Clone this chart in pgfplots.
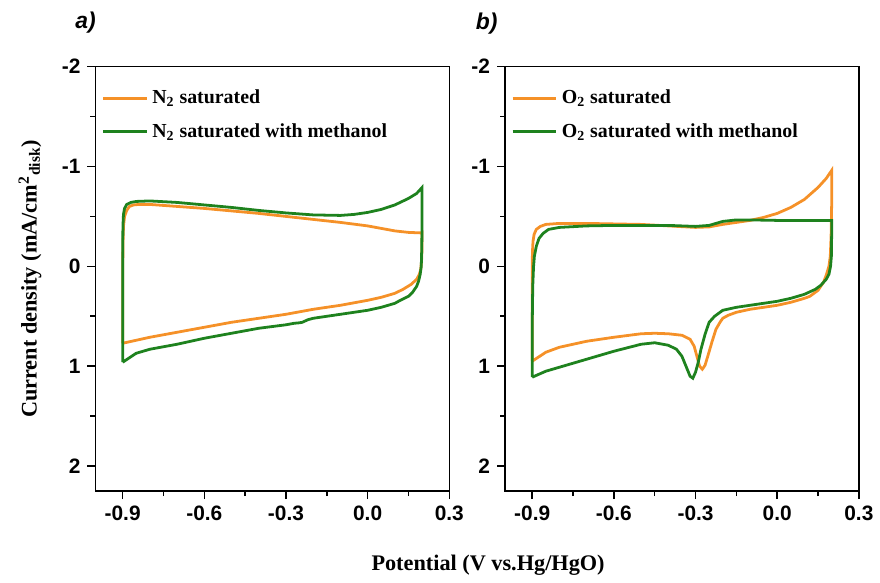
\documentclass[border=0pt]{standalone}
\usepackage{pgfplots}
\pgfplotsset{compat=1.18}
\usepackage{fontspec}
\setmainfont{Liberation Serif}
\setsansfont{Liberation Sans}
\definecolor{cvorange}{RGB}{245,145,40}
\definecolor{cvgreen}{RGB}{30,130,30}

\pgfplotsset{cvpanel/.style={
  width=178pt, height=213.5pt, scale only axis,
  xmin=-1.0, xmax=0.3, ymin=-2, ymax=2.25, y dir=reverse,
  xtick={-0.9,-0.6,-0.3,0,0.3}, ytick={-2,-1,0,1,2},
  minor xtick={-0.75,-0.45,-0.15,0.15}, minor ytick={-1.5,-0.5,0.5,1.5},
  tick pos=left, tick align=outside,
  major tick length=4pt, minor tick length=2.5pt,
  axis line style={line width=0.8pt},
  every tick/.style={black, line width=0.8pt},
  tick label style={font=\sffamily\bfseries\fontsize{10.5}{12}\selectfont},
  /pgf/number format/assume math mode=true,
  xticklabel style={/pgf/number format/.cd, fixed, fixed zerofill, precision=1},
  yticklabel style={/pgf/number format/.cd, fixed, precision=0},
  legend style={at={(0.0,0.965)}, anchor=north west, draw=none, fill=none,
    font=\bfseries\fontsize{10}{12}\selectfont, row sep=4.5pt},
  legend cell align=left,
  legend image code/.code={\draw[##1] (0pt,0pt) -- (22pt,0pt);},
  every axis plot/.append style={line width=1.4pt},
}}

\begin{document}
\begin{tikzpicture}
% panel a
\begin{axis}[cvpanel, at={(0pt,0pt)}, anchor=south west,
  ylabel={Current density (mA/cm\textsuperscript{2}\textsubscript{disk})},
  ylabel style={at={(axis description cs:-0.185,0.5)}, anchor=center,
    font=\bfseries\fontsize{11.2}{13}\selectfont}]
\addplot[cvorange] coordinates {
(-0.9,0.77) (-0.9,0.3) (-0.899,-0.2) (-0.897,-0.4) (-0.893,-0.5) (-0.885,-0.56)
(-0.875,-0.6) (-0.86,-0.615) (-0.84,-0.62) (-0.8,-0.62) (-0.7,-0.6) (-0.6,-0.58)
(-0.5,-0.555) (-0.4,-0.53) (-0.3,-0.5) (-0.2,-0.47) (-0.1,-0.44) (0.0,-0.405)
(0.05,-0.38) (0.1,-0.355) (0.15,-0.34) (0.195,-0.335) (0.2,-0.34) (0.2,-0.2)
(0.198,-0.05) (0.195,0.03) (0.19,0.08) (0.18,0.13) (0.16,0.18) (0.13,0.23)
(0.1,0.27) (0.05,0.31) (0.0,0.34) (-0.1,0.39) (-0.2,0.43) (-0.3,0.48)
(-0.4,0.52) (-0.5,0.56) (-0.6,0.61) (-0.7,0.66) (-0.8,0.71) (-0.9,0.77)};
\addlegendentry{N\textsubscript{2} saturated}
\addplot[cvgreen] coordinates {
(-0.9,0.96) (-0.9,0.5) (-0.9,0.0) (-0.899,-0.4) (-0.897,-0.52) (-0.893,-0.58)
(-0.885,-0.62) (-0.87,-0.64) (-0.85,-0.65) (-0.8,-0.655) (-0.7,-0.64) (-0.6,-0.615)
(-0.5,-0.59) (-0.4,-0.56) (-0.3,-0.535) (-0.2,-0.515) (-0.1,-0.51) (-0.05,-0.52)
(0.0,-0.54) (0.05,-0.57) (0.1,-0.615) (0.15,-0.68) (0.18,-0.73) (0.2,-0.79)
(0.2,-0.5) (0.199,-0.2) (0.197,0.0) (0.193,0.08) (0.187,0.15) (0.18,0.2)
(0.165,0.26) (0.15,0.3) (0.12,0.34) (0.1,0.37) (0.05,0.41) (0.0,0.44)
(-0.1,0.48) (-0.2,0.52) (-0.22,0.535) (-0.24,0.56) (-0.25,0.565) (-0.27,0.57)
(-0.3,0.585) (-0.4,0.62) (-0.5,0.67) (-0.6,0.72) (-0.7,0.78) (-0.8,0.83)
(-0.85,0.87) (-0.9,0.96)};
\addlegendentry{N\textsubscript{2} saturated with methanol}
\end{axis}

% panel b
\begin{axis}[cvpanel, at={(206pt,0pt)}, anchor=south west]
\addplot[cvorange] coordinates {
(-0.9,0.95) (-0.9,0.5) (-0.9,0.0) (-0.899,-0.15) (-0.897,-0.25) (-0.893,-0.32)
(-0.885,-0.37) (-0.87,-0.4) (-0.85,-0.42) (-0.8,-0.43) (-0.7,-0.43) (-0.6,-0.425)
(-0.5,-0.42) (-0.4,-0.405) (-0.3,-0.39) (-0.25,-0.395) (-0.2,-0.42) (-0.15,-0.44)
(-0.1,-0.46) (-0.05,-0.49) (0.0,-0.53) (0.05,-0.59) (0.1,-0.67) (0.15,-0.79)
(0.18,-0.88) (0.2,-0.96) (0.2,-0.6) (0.198,-0.3) (0.195,-0.1) (0.19,0.0)
(0.18,0.09) (0.17,0.16) (0.15,0.24) (0.12,0.3) (0.1,0.32) (0.05,0.36)
(0.0,0.39) (-0.1,0.43) (-0.15,0.46) (-0.18,0.49) (-0.2,0.52) (-0.21,0.56)
(-0.225,0.63) (-0.24,0.76) (-0.255,0.9) (-0.265,0.99) (-0.275,1.03) (-0.285,1.0)
(-0.295,0.9) (-0.305,0.8) (-0.32,0.73) (-0.35,0.69) (-0.4,0.675) (-0.45,0.67)
(-0.5,0.675) (-0.6,0.71) (-0.7,0.75) (-0.8,0.81) (-0.85,0.86) (-0.9,0.95)};
\addlegendentry{O\textsubscript{2} saturated}
\addplot[cvgreen] coordinates {
(-0.9,1.11) (-0.9,0.6) (-0.898,0.2) (-0.895,0.0) (-0.892,-0.1) (-0.885,-0.2)
(-0.875,-0.28) (-0.86,-0.33) (-0.84,-0.37) (-0.8,-0.39) (-0.7,-0.405) (-0.6,-0.41)
(-0.5,-0.41) (-0.4,-0.41) (-0.3,-0.4) (-0.25,-0.41) (-0.2,-0.45) (-0.15,-0.465)
(-0.1,-0.465) (0.0,-0.46) (0.1,-0.46) (0.2,-0.46) (0.2,-0.3) (0.199,-0.1)
(0.196,0.0) (0.19,0.08) (0.18,0.13) (0.16,0.19) (0.14,0.23) (0.1,0.28)
(0.05,0.32) (0.0,0.35) (-0.1,0.39) (-0.15,0.41) (-0.2,0.44) (-0.23,0.5)
(-0.25,0.56) (-0.265,0.68) (-0.28,0.83) (-0.29,0.96) (-0.3,1.06) (-0.31,1.12)
(-0.32,1.1) (-0.335,1.0) (-0.35,0.9) (-0.37,0.83) (-0.4,0.79) (-0.45,0.765)
(-0.5,0.78) (-0.6,0.85) (-0.7,0.93) (-0.75,0.97) (-0.8,1.01) (-0.85,1.05)
(-0.9,1.11)};
\addlegendentry{O\textsubscript{2} saturated with methanol}
\end{axis}

\node[font=\sffamily\bfseries\itshape\fontsize{11.5}{13}\selectfont] at (-5pt,235.5pt) {a)};
\node[font=\sffamily\bfseries\itshape\fontsize{11.5}{13}\selectfont] at (196.75pt,235pt) {b)};
\node[font=\bfseries\fontsize{11.2}{13}\selectfont] at (197.5pt,-37.5pt) {Potential (V vs.Hg/HgO)};
\path (-48pt,-42pt) rectangle (392pt,247pt);
\end{tikzpicture}
\end{document}
